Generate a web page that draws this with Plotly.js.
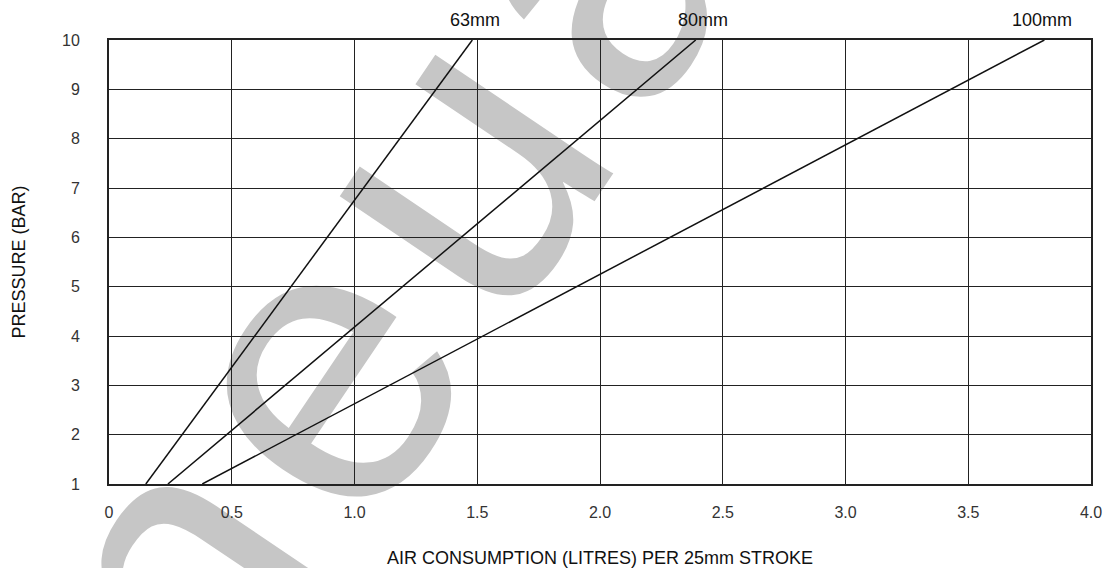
<!DOCTYPE html>
<html>
<head>
<meta charset="utf-8">
<script src="https://cdn.plot.ly/plotly-3.0.1.min.js"></script>
<style>
  html, body { margin: 0; padding: 0; background: #ffffff; overflow: hidden; }
  #wrap { position: relative; width: 1107px; height: 568px; overflow: hidden; background: #ffffff; }
  #wm {
    position: absolute; left: 380px; top: 268px;
    transform: translate(-50%, -50%) rotate(-56deg);
    font-family: 'Liberation Sans', Arial, sans-serif; font-size: 405px; line-height: 1;
    letter-spacing: 24px;
    color: #c6c6c6; white-space: nowrap; user-select: none;
  }
  #chart { position: absolute; left: 0; top: 0; width: 1107px; height: 568px; }
</style>
</head>
<body>
<div id="wrap">
  <div id="wm">Pneuair</div>
  <div id="chart"></div>
</div>
<script>
// ---- data ----
const seriesNames = ['63mm', '80mm', '100mm'];
const pressure = [1, 10];                 // bar, at the two ends of each line
const air63 = [0.15, 1.48];               // litres per 25mm stroke
const air80 = [0.24, 2.39];
const air100 = [0.38, 3.81];
const labelX = [1.49, 2.42, 3.80];        // where each bore label sits (x value)

const xTickVals = [0, 0.5, 1.0, 1.5, 2.0, 2.5, 3.0, 3.5, 4.0];
const xTickText = ['0', '0.5', '1.0', '1.5', '2.0', '2.5', '3.0', '3.5', '4.0'];
const yTickVals = [1, 2, 3, 4, 5, 6, 7, 8, 9, 10];
const yTickText = ['1', '2', '3', '4', '5', '6', '7', '8', '9', '10'];

const xTitle = 'AIR CONSUMPTION (LITRES) PER 25mm STROKE';
const yTitle = 'PRESSURE (BAR)';

// ---- build ----
const airSeries = [air63, air80, air100];
const traces = airSeries.map((xs, i) => ({
  type: 'scatter', mode: 'lines', name: seriesNames[i],
  x: xs, y: pressure,
  line: { color: '#111111', width: 1.5 },
  hoverinfo: 'skip'
}));

const labelFont = { family: 'Liberation Sans, Arial, sans-serif', size: 18, color: '#111111' };
const annotations = seriesNames.map((n, i) => ({
  text: n, x: labelX[i], xref: 'x', y: 1.044, yref: 'paper',
  xanchor: 'center', yanchor: 'middle', showarrow: false, font: labelFont
}));

const tickFont = { family: 'Liberation Sans, Arial, sans-serif', size: 16, color: '#333333' };
const titleFont = { family: 'Liberation Sans, Arial, sans-serif', size: 18, color: '#111111' };

const layout = {
  width: 1107, height: 568,
  margin: { l: 109, r: 16, t: 40, b: 84, pad: 0 },
  paper_bgcolor: 'rgba(0,0,0,0)',
  plot_bgcolor: 'rgba(0,0,0,0)',
  showlegend: false,
  xaxis: {
    range: [0, 4], tickmode: 'array', tickvals: xTickVals, ticktext: xTickText,
    showgrid: true, gridcolor: '#222222', gridwidth: 1,
    zeroline: false, showline: true, linecolor: '#222222', linewidth: 2, mirror: true,
    ticks: '', ticklabelstandoff: 13, tickfont: tickFont,
    title: { text: xTitle, font: titleFont, standoff: 40 },
    fixedrange: true
  },
  yaxis: {
    range: [1, 10], tickmode: 'array', tickvals: yTickVals, ticktext: yTickText,
    showgrid: true, gridcolor: '#222222', gridwidth: 1,
    zeroline: false, showline: true, linecolor: '#222222', linewidth: 2, mirror: true,
    ticks: '', ticklabelstandoff: 24, tickfont: tickFont,
    title: { text: yTitle, font: titleFont, standoff: 32 },
    fixedrange: true
  },
  annotations: annotations
};

Plotly.newPlot('chart', traces, layout, { displayModeBar: false, staticPlot: true });
</script>
</body>
</html>
